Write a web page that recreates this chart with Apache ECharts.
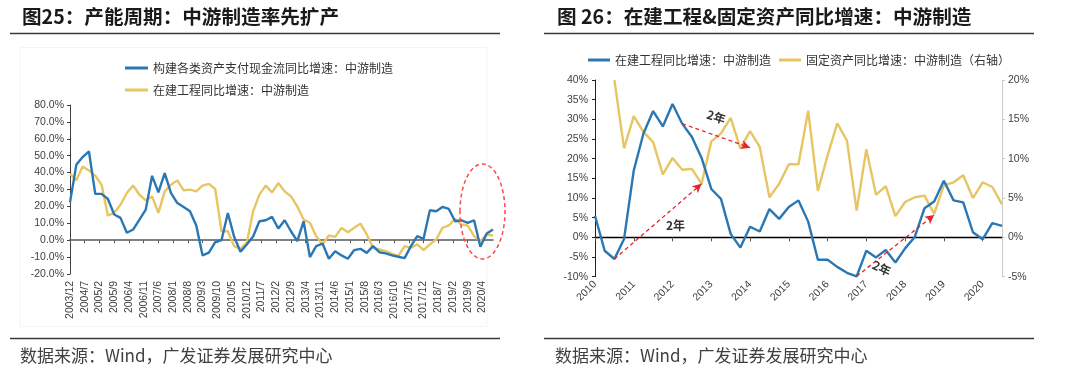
<!DOCTYPE html>
<html><head><meta charset="utf-8">
<script src="https://cdn.jsdelivr.net/npm/echarts@6/dist/echarts.min.js"></script>
<style>
html,body{margin:0;padding:0;background:#fff;width:1080px;height:379px;overflow:hidden;}
#c1{position:absolute;left:0;top:0;width:540px;height:379px;}
#c2{position:absolute;left:540px;top:0;width:540px;height:379px;}
</style>
</head><body>
<div id="c1"></div><div id="c2"></div>
<script>
// ---------- Chart 1 data (quarterly values, 2003/12 .. 2020/9) ----------
const c1Title = '图25：产能周期：中游制造率先扩产';
const c1Names = ['构建各类资产支付现金流同比增速：中游制造', '在建工程同比增速：中游制造'];
const c1Start = [2003, 12];
const c1End = [2020, 9];
const c1Cash = [22.4, 44.6, 49.2, 52.5, 27.4, 27.4, 24.4, 15.2, 13.2, 4.4,
  6.3, 12.2, 18.1, 38.1, 28.3, 39.7, 27.9, 22, 19.7, 17.1,
  8.7, -9, -7.4, -1.2, 0, 16.1, 2, -6.8, -2.5, 2.2,
  11.2, 11.8, 13.8, 6.9, 11.8, 5.3, -0.6, 11.2, -10, -3.5,
  -2, -11, -6.5, -9, -11, -5.9, -5.1, -7.5, -3.5, -7.1,
  -7.8, -9, -9.8, -10.6, -3.5, 2.4, 0.8, 17.7, 17.1, 19.7,
  18.5, 11.2, 11.8, 10.3, 11.8, -3.9, 3.9, 6.3];
const c1Cip = [39.3, 35.4, 43.6, 41.3, 38.1, 32.8, 14.6, 16.2, 21, 27.9,
  32.4, 26.9, 23.6, 25.9, 16.2, 28.9, 32.8, 35.4, 29.5, 29.9,
  28.9, 32.3, 33.3, 30.3, 5.3, 5.3, -3.5, -5.1, -1.5, 17,
  27, 32.3, 28.3, 33.8, 28.9, 25.9, 20, 12.2, 10.3, 2.4,
  -2.5, 2.8, 2, 7.3, 4.7, 7.3, 9.8, 3.4, -4.5, -5.5,
  -6.5, -8, -9.4, -3.5, -4.5, -2.5, -5.9, -2.5, 0.4, 7.3,
  8.7, 12.6, 9.3, 8.7, 2.4, -0.6, 3.4, 2.8];
const c1Ellipse = {cat: '2020/4', value: 17};

// ---------- Chart 2 data (quarterly, 2010Q1 .. 2020Q3) ----------
const c2Title = '图 26：在建工程&固定资产同比增速：中游制造';
const c2Names = ['在建工程同比增速：中游制造', '固定资产同比增速：中游制造（右轴）'];
const c2Quarters = [];
for (let y = 2010; y <= 2020; y++) for (let q = 1; q <= 4; q++) if (!(y === 2020 && q === 4)) c2Quarters.push(y + 'Q' + q);
const c2Cip = [5.5, -3.4, -5.5, -0.4, 17, 26.4, 32.1, 28.2, 33.9, 28.9,
  25.5, 20.2, 12.3, 9.8, 0.9, -2.6, 2.7, 1.5, 7.2, 4.7,
  7.7, 9.4, 4.0, -5.7, -5.7, -7.5, -9.0, -9.9, -3.4, -5.1,
  -3.2, -6.4, -2.8, 0.1, 7.4, 9.1, 14.4, 9.4, 8.9, 1.3,
  -0.5, 3.6, 2.9];
const c2Fixed = [null, null, 20, 11.3, 15.4, 13.4, 12.1, 8.0, 10.1, 8.6,
  8.7, 6.8, 12.2, 13.2, 15.2, 11.3, 13.5, 11.5, 5.1, 6.8,
  9.3, 9.3, 16.1, 5.9, 10.4, 14.5, 12.3, 3.4, 11.2, 5.4,
  6.5, 2.7, 4.5, 5.1, 5.3, 3.0, 6.6, 7.0, 7.9, 5.0,
  7.0, 6.4, 4.2];
// annotation arrows: [startIdx, startVal(left axis)], [endIdx, endVal(left axis)]
const c2Arrows = [
  [[2, -5.5], [11, 13.6]],
  [[9, 28.9], [16, 22.8]],
  [[27, -9.9], [35, 5.7]]
];
// "2年" labels: [idx, value(left axis), dx, rotationDeg]
const c2Notes = [[8, 3.0, 3, 0], [12, 30.6, 5, -18], [30, -7.8, -4, -25]];
const footer = '数据来源：Wind，广发证券发展研究中心';

const BLUE = '#2a77b3', GOLD = '#e7c562';
const CJK = '"Noto Sans CJK SC", sans-serif';
const NUM = '"Liberation Sans", Arial, sans-serif';

// build monthly categories for chart 1
const c1Months = [];
{
  let y = c1Start[0], m = c1Start[1];
  while (y < c1End[0] || (y === c1End[0] && m <= c1End[1])) {
    c1Months.push(y + '/' + m);
    m++; if (m > 12) { m = 1; y++; }
  }
}
function toMonthly(q) {
  return c1Months.map((c, i) => (i % 3 === 0 && q[i / 3] !== undefined) ? q[i / 3] : null);
}

// ---------------- Chart 1 ----------------
const ch1 = echarts.init(document.getElementById('c1'), null, {renderer: 'canvas'});
const legendBase = {icon: 'rect', itemWidth: 23, itemHeight: 3, textStyle: {fontSize: 12, color: '#333', fontFamily: CJK}};
ch1.setOption({
  animation: false,
  textStyle: {fontFamily: NUM},
  grid: {left: 70, right: 47, top: 105, bottom: 105},
  legend: [
    Object.assign({data: [c1Names[0]], left: 120, top: 57}, legendBase),
    Object.assign({data: [c1Names[1]], left: 120, top: 79}, legendBase)
  ],
  xAxis: [
    {type: 'category', data: c1Months, boundaryGap: false, position: 'bottom',
      axisLine: {show: false, onZero: false}, axisTick: {show: false},
      axisLabel: {interval: 6, rotate: 90, fontSize: 10.5, color: '#404040', margin: 7, fontFamily: NUM}},
    {type: 'category', data: c1Months, boundaryGap: false, position: 'top',
      axisLine: {show: true, onZero: true, lineStyle: {color: '#5a5a5a', width: 1.6}},
      axisTick: {show: true, inside: true, interval: 6, length: 3, lineStyle: {color: '#5a5a5a', width: 1}},
      axisLabel: {show: false}}
  ],
  yAxis: {type: 'value', min: -20, max: 80, interval: 10,
    axisLine: {show: true, lineStyle: {color: '#404040', width: 1}},
    axisTick: {show: true, length: 3, lineStyle: {color: '#404040'}},
    splitLine: {show: false},
    axisLabel: {formatter: v => v.toFixed(1) + '%', fontSize: 10.5, color: '#404040', margin: 6, fontFamily: NUM}},
  series: [
    {name: c1Names[0], type: 'line', data: toMonthly(c1Cash), connectNulls: true, showSymbol: false, symbol: 'none',
      lineStyle: {color: BLUE, width: 2.4}, itemStyle: {color: BLUE}, z: 3},
    {name: c1Names[1], type: 'line', data: toMonthly(c1Cip), connectNulls: true, showSymbol: false, symbol: 'none',
      lineStyle: {color: GOLD, width: 2.4}, itemStyle: {color: GOLD}, z: 2}
  ]
});
{
  const p = ch1.convertToPixel({xAxisIndex: 0, yAxisIndex: 0}, [c1Ellipse.cat, c1Ellipse.value]);
  ch1.setOption({graphic: [
    {type: 'rect', shape: {x: 20, y: 47.5, width: 467, height: 279}, style: {fill: 'none', stroke: '#f4f4f4', lineWidth: 1}, silent: true, z: -1},
    {type: 'text', x: 22, y: 17, style: {text: c1Title, font: 'bold 19.6px ' + CJK, fill: '#1a1a1a', textVerticalAlign: 'middle'}},
    {type: 'line', shape: {x1: 10, y1: 33.5, x2: 500, y2: 33.5}, style: {stroke: '#3a3a3a', lineWidth: 1.5}},
    {type: 'line', shape: {x1: 10, y1: 338.5, x2: 500, y2: 338.5}, style: {stroke: '#3a3a3a', lineWidth: 1.5}},
    {type: 'text', x: 20, y: 356, style: {text: footer, font: '17px ' + CJK, fill: '#404040', textVerticalAlign: 'middle'}},
    {type: 'ellipse', shape: {cx: p[0], cy: p[1], rx: 22.5, ry: 47.5}, style: {fill: 'none', stroke: '#ff4a4a', lineWidth: 1.5, lineDash: [4, 3]}, z: 10}
  ]});
}

// ---------------- Chart 2 ----------------
const ch2 = echarts.init(document.getElementById('c2'), null, {renderer: 'canvas'});
ch2.setOption({
  animation: false,
  textStyle: {fontFamily: NUM},
  grid: {left: 55, right: 78, top: 80, bottom: 102.3},
  legend: {data: c2Names, left: 43, top: 49, icon: 'rect', itemWidth: 22, itemHeight: 3, itemGap: 8,
    textStyle: {fontSize: 12, color: '#333', fontFamily: CJK}},
  xAxis: [
    {type: 'category', data: c2Quarters, boundaryGap: false, position: 'bottom',
      axisLine: {show: false, onZero: false}, axisTick: {show: false},
      axisLabel: {interval: 3, rotate: 45, fontSize: 10.5, color: '#404040', margin: 6, formatter: v => v.slice(0, 4), fontFamily: NUM}},
    {type: 'category', data: c2Quarters, boundaryGap: false, position: 'top',
      axisLine: {show: true, onZero: true, lineStyle: {color: '#000', width: 1.3}},
      axisTick: {show: true, inside: true, interval: 3, length: 4, lineStyle: {color: '#555'}},
      axisLabel: {show: false}}
  ],
  yAxis: [
    {type: 'value', min: -10, max: 40, interval: 5,
      axisLine: {show: true, lineStyle: {color: '#222', width: 1}},
      axisTick: {show: true, length: 3, lineStyle: {color: '#222'}},
      splitLine: {show: false},
      axisLabel: {formatter: v => v + '%', fontSize: 10.5, color: '#404040', margin: 7, fontFamily: NUM}},
    {type: 'value', min: -5, max: 20, interval: 5, position: 'right',
      axisLine: {show: true, lineStyle: {color: '#c8c8c8', width: 1}},
      axisTick: {show: true, length: 3, lineStyle: {color: '#c8c8c8'}},
      splitLine: {show: false},
      axisLabel: {formatter: v => v + '%', fontSize: 10.5, color: '#404040', margin: 6, fontFamily: NUM}}
  ],
  series: [
    {name: c2Names[0], type: 'line', data: c2Cip, yAxisIndex: 0, showSymbol: false, symbol: 'none',
      lineStyle: {color: BLUE, width: 2.4}, itemStyle: {color: BLUE}, z: 3,
      markLine: {silent: true, symbol: ['none', 'arrow'], symbolSize: [7, 9], label: {show: false},
        lineStyle: {color: '#e3242b', type: [4, 3], width: 1.3},
        data: c2Arrows.map(a => [{coord: [c2Quarters[a[0][0]], a[0][1]]}, {coord: [c2Quarters[a[1][0]], a[1][1]]}])}},
    {name: c2Names[1], type: 'line', data: c2Fixed, yAxisIndex: 1, showSymbol: false, symbol: 'none',
      lineStyle: {color: GOLD, width: 2.4}, itemStyle: {color: GOLD}, z: 2}
  ]
});
{
  const g = [
    {type: 'text', x: 17, y: 17, style: {text: c2Title, font: 'bold 19.6px ' + CJK, fill: '#1a1a1a', textVerticalAlign: 'middle'}},
    {type: 'line', shape: {x1: 4, y1: 33.5, x2: 494, y2: 33.5}, style: {stroke: '#3a3a3a', lineWidth: 1.5}},
    {type: 'line', shape: {x1: 4, y1: 338.5, x2: 494, y2: 338.5}, style: {stroke: '#3a3a3a', lineWidth: 1.5}},
    {type: 'text', x: 15, y: 356, style: {text: footer, font: '17px ' + CJK, fill: '#404040', textVerticalAlign: 'middle'}}
  ];
  c2Notes.forEach(n => {
    const p = ch2.convertToPixel({xAxisIndex: 0, yAxisIndex: 0}, [c2Quarters[n[0]], n[1]]);
    g.push({type: 'text', x: p[0] + n[2], y: p[1], rotation: n[3] * Math.PI / 180, z: 20,
      style: {text: '2年', font: 'bold 12px ' + CJK, fill: '#333', textAlign: 'center', textVerticalAlign: 'middle'}});
  });
  ch2.setOption({graphic: g});
}
</script>
</body></html>
